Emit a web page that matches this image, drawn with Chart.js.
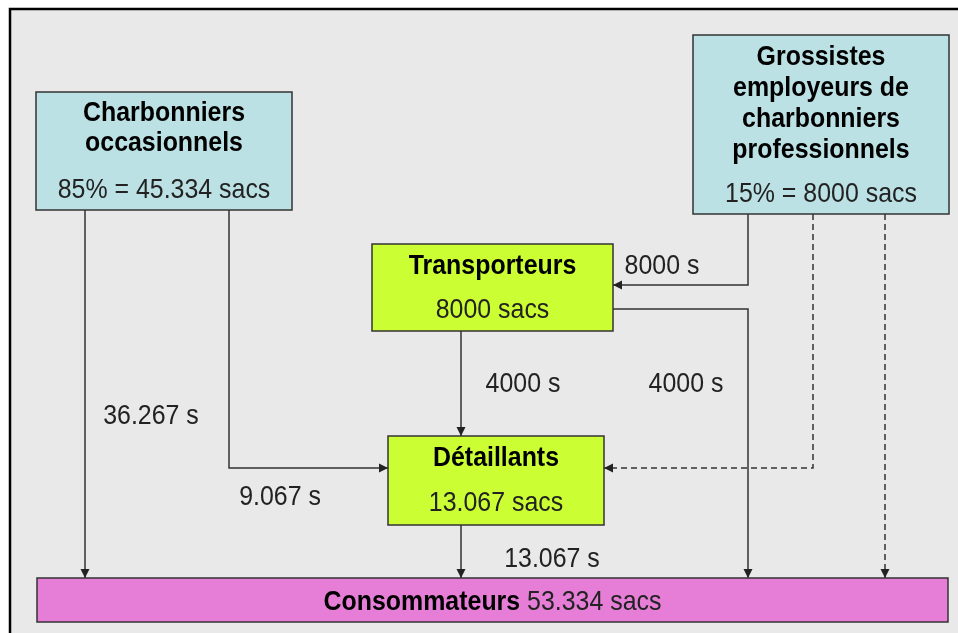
<!DOCTYPE html>
<html>
<head>
    <title>Filière charbon de bois</title>
    <script src="https://cdn.jsdelivr.net/npm/chart.js@4.3.0/dist/chart.umd.js"></script>
    <style>
        body { margin: 0; background: #fff; }
        canvas { display: block; }
    </style>
</head>
<body>
    <canvas id="chart" width="958" height="633"></canvas>

    <script>
        // acteurs de la filière (titre en gras, puis quantité)
        const nodeTitles = [
            ['Charbonniers', 'occasionnels'],
            ['Grossistes', 'employeurs de', 'charbonniers', 'professionnels'],
            ['Transporteurs'],
            ['Détaillants'],
            ['Consommateurs']
        ];
        const nodeValues = ['85% = 45.334 sacs', '15% = 8000 sacs', '8000 sacs', '13.067 sacs', '53.334 sacs'];

        // flux entre acteurs
        const flowLabels = ['36.267 s', '9.067 s', '8000 s', '4000 s', '4000 s', '13.067 s', '', ''];
        const flowDashed = [false, false, false, false, false, false, true, true];

        // mise en page (coordonnées du schéma)
        const nodeBox = [
            [36, 92, 292, 210],
            [693, 35, 949, 214],
            [372, 244, 613, 331],
            [388, 436, 604, 525],
            [37, 578, 948, 622]
        ];
        const nodeColor = ['#bbe1e4', '#bbe1e4', '#ccff33', '#ccff33', '#e67ed7'];
        const titleY = [[113, 143], [57, 88, 119, 150], [266], [458], [602]];
        const valueY = [190, 194, 310, 503, 602];

        const flowPaths = [
            [[85, 210], [85, 578]],
            [[229, 210], [229, 468], [388, 468]],
            [[748, 214], [748, 285], [613, 285]],
            [[461, 331], [461, 436]],
            [[613, 309], [748, 309], [748, 578]],
            [[461, 525], [461, 578]],
            [[813, 214], [813, 468], [604, 468]],
            [[885, 214], [885, 578]]
        ];
        const labelPos = [[151, 416], [280, 497], [662, 266], [523, 384], [686, 384], [552, 559], [0, 0], [0, 0]];

        const FONT = '"Liberation Sans", Arial, sans-serif';
        const SIZE = 28;
        const SQUEEZE = 0.89;

        const datasets = flowPaths.map((path, i) => ({
            label: flowLabels[i],
            data: path.map(p => ({ x: p[0], y: p[1] })),
            showLine: true,
            borderColor: '#333',
            borderWidth: 1.5,
            borderDash: flowDashed[i] ? [6, 4] : [],
            pointRadius: 0,
            fill: false
        }));

        function text(c, s, x, y, bold, color) {
            c.save();
            c.font = (bold ? 'bold ' : '') + SIZE + 'px ' + FONT;
            c.fillStyle = color;
            c.textBaseline = 'middle';
            c.textAlign = 'left';
            const w = c.measureText(s).width * SQUEEZE;
            c.translate(x, y);
            c.scale(SQUEEZE, 1);
            c.fillText(s, 0, 0);
            c.restore();
            return w;
        }
        function width(c, s, bold) {
            c.font = (bold ? 'bold ' : '') + SIZE + 'px ' + FONT;
            return c.measureText(s).width * SQUEEZE;
        }

        const diagram = {
            id: 'diagram',
            beforeDraw(chart) {
                const c = chart.ctx;
                const sx = chart.scales.x, sy = chart.scales.y;
                c.save();
                c.fillStyle = '#fff';
                c.fillRect(0, 0, chart.width, chart.height);
                const fx = sx.getPixelForValue(10), fy = sy.getPixelForValue(9);
                c.fillStyle = '#e9e9e9';
                c.fillRect(fx, fy, chart.width - fx, chart.height - fy);
                c.strokeStyle = '#000';
                c.lineWidth = 2.5;
                c.beginPath();
                c.moveTo(fx, chart.height);
                c.lineTo(fx, fy);
                c.lineTo(chart.width, fy);
                c.stroke();
                c.restore();
            },
            afterDatasetsDraw(chart) {
                const c = chart.ctx;
                const sx = chart.scales.x, sy = chart.scales.y;
                c.save();

                // pointes de flèche
                chart.data.datasets.forEach((ds, i) => {
                    const pts = chart.getDatasetMeta(i).data;
                    const a = pts[pts.length - 2], b = pts[pts.length - 1];
                    const ang = Math.atan2(b.y - a.y, b.x - a.x);
                    c.fillStyle = '#222';
                    c.beginPath();
                    c.moveTo(b.x, b.y);
                    c.lineTo(b.x - 9 * Math.cos(ang) + 4.5 * Math.sin(ang), b.y - 9 * Math.sin(ang) - 4.5 * Math.cos(ang));
                    c.lineTo(b.x - 9 * Math.cos(ang) - 4.5 * Math.sin(ang), b.y - 9 * Math.sin(ang) + 4.5 * Math.cos(ang));
                    c.closePath();
                    c.fill();
                });

                // boîtes
                nodeBox.forEach((b, i) => {
                    const x0 = sx.getPixelForValue(b[0]), y0 = sy.getPixelForValue(b[1]);
                    const x1 = sx.getPixelForValue(b[2]), y1 = sy.getPixelForValue(b[3]);
                    c.fillStyle = nodeColor[i];
                    c.fillRect(x0, y0, x1 - x0, y1 - y0);
                    c.strokeStyle = '#333';
                    c.lineWidth = 1.5;
                    c.strokeRect(x0, y0, x1 - x0, y1 - y0);
                    const cx = (x0 + x1) / 2;
                    if (i === 4) {
                        // titre et quantité sur une seule ligne
                        const t = nodeTitles[i][0] + ' ';
                        const wt = width(c, t, true);
                        const wv = width(c, nodeValues[i], false);
                        const left = cx - (wt + wv) / 2;
                        const y = sy.getPixelForValue(valueY[i]);
                        text(c, t, left, y, true, '#000');
                        text(c, nodeValues[i], left + wt, y, false, '#222');
                        return;
                    }
                    nodeTitles[i].forEach((t, j) => {
                        text(c, t, cx - width(c, t, true) / 2, sy.getPixelForValue(titleY[i][j]), true, '#000');
                    });
                    const v = nodeValues[i];
                    text(c, v, cx - width(c, v, false) / 2, sy.getPixelForValue(valueY[i]), false, '#222');
                });

                // étiquettes des flux
                flowLabels.forEach((l, i) => {
                    if (!l) return;
                    const x = sx.getPixelForValue(labelPos[i][0]);
                    text(c, l, x - width(c, l, false) / 2, sy.getPixelForValue(labelPos[i][1]), false, '#222');
                });
                c.restore();
            }
        };

        new Chart(document.getElementById('chart').getContext('2d'), {
            type: 'scatter',
            data: { datasets },
            options: {
                responsive: false,
                animation: false,
                layout: { padding: 0 },
                plugins: { legend: { display: false }, tooltip: { enabled: false } },
                scales: {
                    x: { type: 'linear', min: 0, max: 958, display: false },
                    y: { type: 'linear', min: 0, max: 633, reverse: true, display: false }
                }
            },
            plugins: [diagram]
        });
    </script>
</body>
</html>
